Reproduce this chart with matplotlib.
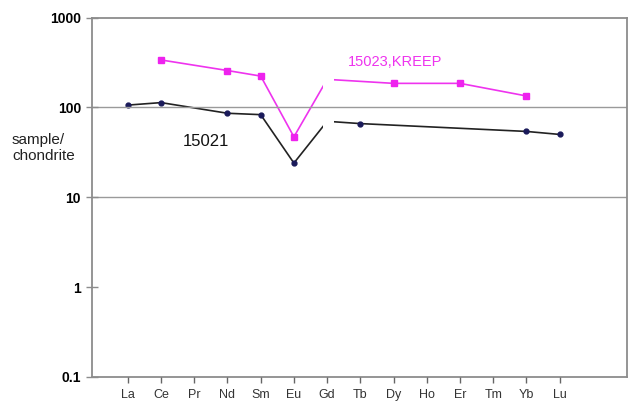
import numpy as np
import matplotlib
matplotlib.use("Agg")
import matplotlib.pyplot as plt

plt.rcParams['font.family'] = ['Liberation Sans', 'DejaVu Sans']

elements = ["La", "Ce", "Pr", "Nd", "Sm", "Eu", "Gd", "Tb", "Dy", "Ho", "Er", "Tm", "Yb", "Lu"]
s15021 = [106, 113, np.nan, 86, 83, 24, 70, 66, np.nan, np.nan, np.nan, np.nan, 54, 50]
s15023 = [np.nan, 337, np.nan, 257, 223, 47, 205, np.nan, 185, np.nan, 185, np.nan, 134, np.nan]
ytick_vals = [0.1, 1, 10, 100, 1000]
ytick_labels = ["0.1", "1", "10", "100", "1000"]

W, H = 631, 407
fig = plt.figure(figsize=(W / 100, H / 100), dpi=100)
ax = fig.add_axes([92 / W, 1 - 377 / H, (627 - 92) / W, (377 - 17.5) / H])

x = np.arange(len(elements))

def plot_series(vals, **kw):
    v = np.array(vals, dtype=float)
    m = ~np.isnan(v)
    ax.plot(x[m], v[m], zorder=2, **kw)

plot_series(s15021, color="#222222", lw=1.2, marker="o", ms=3.5,
            mfc="#1a1a5a", mec="#1a1a5a")
plot_series(s15023, color="#ee33ee", lw=1.2, marker="s", ms=4.5,
            mfc="#ee22ee", mec="#ee22ee")

# white strip over Gd (as in the reference)
gd = elements.index("Gd")
ax.axvspan(gd - 0.12, gd + 0.22, color="white", lw=0, zorder=2.2)

ax.set_yscale("log")
ax.set_ylim(0.1, 1000)
ax.set_xlim(-1.08, 15.03)
ax.set_axisbelow(False)

for yv in [10, 100]:
    ax.axhline(yv, color="#9a9a9a", lw=1.0, zorder=2.5)

ax.set_yticks(ytick_vals)
ax.set_yticklabels(ytick_labels, fontsize=10, fontweight="bold")
ax.yaxis.set_minor_locator(matplotlib.ticker.NullLocator())
ax.tick_params(axis="y", direction="inout", length=8, width=1, color="#8c8c8c", pad=4)

ax.set_xticks(x)
ax.set_xticklabels(elements, fontsize=9, color="#333333")
ax.tick_params(axis="x", direction="out", length=4.5, width=1, color="#666666", pad=4)

for s in ax.spines.values():
    s.set_color("#8c8c8c")
    s.set_linewidth(1.3)

fig.text(12 / W, 1 - 148 / H, "sample/\nchondrite", fontsize=11, ha="left", va="center",
         linespacing=1.15, color="#222222")
ax.text(1.66, 42, "15021", fontsize=12, color="#111111", ha="left", va="center")
ax.text(6.63, 318, "15023,KREEP", fontsize=10.5, color="#ee33ee", ha="left", va="center")

fig.savefig("out.png", dpi=100)
